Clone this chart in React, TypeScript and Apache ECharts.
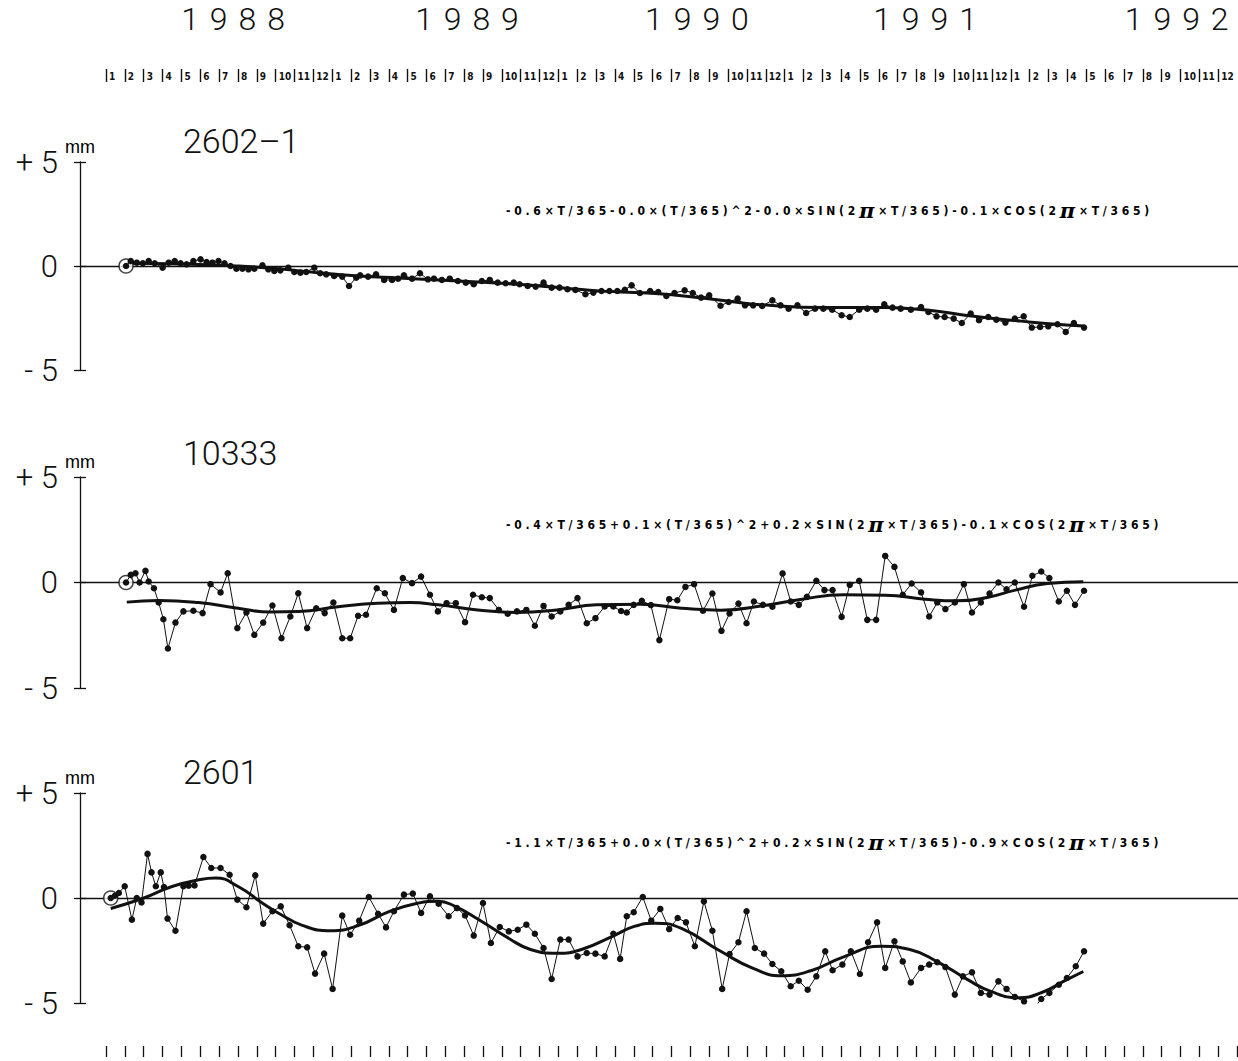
import React, { useEffect, useRef } from "react";
import * as echarts from "echarts";

// ---------- data ----------
const years = ["1988", "1989", "1990", "1991", "1992"];
const yearLabelMonths = [6.74, 19.15, 31.35, 43.45, 56.8];
const monthLabels = ["1", "2", "3", "4", "5", "6", "7", "8", "9", "10", "11", "12"];
const stations = ["2602\u20131", "10333", "2601"];
const formulas = [
  "-0.6×T/365-0.0×(T/365)^2-0.0×SIN(2π×T/365)-0.1×COS(2π×T/365)",
  "-0.4×T/365+0.1×(T/365)^2+0.2×SIN(2π×T/365)-0.1×COS(2π×T/365)",
  "-1.1×T/365+0.0×(T/365)^2+0.2×SIN(2π×T/365)-0.9×COS(2π×T/365)",
];

// x values are months since 1 Jan 1988
const p1Months = [
  1.06, 1.31, 1.63, 1.95, 2.26, 2.58, 3.0, 3.32, 3.64, 3.95,
  4.27, 4.63, 5.01, 5.33, 5.64, 5.96, 6.28, 6.6, 6.91, 7.23,
  7.55, 7.86, 8.29, 8.6, 8.92, 9.24, 9.66, 9.98, 10.3, 10.61,
  11.04, 11.35, 11.67, 12.09, 12.52, 12.88, 13.26, 13.47, 13.89, 14.31,
  14.74, 15.16, 15.48, 15.79, 16.22, 16.64, 17.06, 17.38, 17.8, 18.22,
  18.65, 19.07, 19.49, 19.92, 20.34, 20.76, 21.18, 21.61, 21.92, 22.35,
  22.77, 23.19, 23.62, 24.04, 24.46, 24.88, 25.41, 25.83, 26.26, 26.68,
  27.1, 27.5, 27.86, 28.3, 28.84, 29.27, 29.7, 30.13, 30.67, 31.1,
  31.54, 31.97, 32.57, 33.0, 33.48, 33.87, 34.3, 34.78, 35.32, 35.75,
  36.18, 36.65, 37.11, 37.58, 38.02, 38.49, 38.99, 39.42, 39.92, 40.35,
  40.82, 41.25, 41.69, 42.12, 42.66, 43.2, 43.59, 44.02, 44.45, 44.93,
  45.36, 45.83, 46.27, 46.76, 47.19, 47.67, 48.17, 48.64, 49.07, 49.51,
  49.94, 50.43, 50.87, 51.3, 51.84,
];
const p1Values = [
  0, 0.24, 0.16, 0.13, 0.24, 0.13, -0.08, 0.16, 0.24, 0.13,
  0.08, 0.24, 0.32, 0.19, 0.16, 0.24, 0.13, 0, -0.13, -0.13,
  -0.16, -0.13, 0.03, -0.16, -0.24, -0.21, -0.08, -0.29, -0.32, -0.29,
  -0.08, -0.35, -0.4, -0.48, -0.51, -0.96, -0.56, -0.45, -0.51, -0.4,
  -0.67, -0.67, -0.61, -0.45, -0.61, -0.35, -0.64, -0.61, -0.67, -0.61,
  -0.72, -0.8, -0.88, -0.72, -0.67, -0.8, -0.83, -0.8, -0.88, -0.96,
  -0.99, -0.8, -1.04, -1.04, -1.12, -1.15, -1.36, -1.28, -1.2, -1.2,
  -1.2, -1.14, -0.93, -1.3, -1.2, -1.25, -1.44, -1.3, -1.17, -1.3,
  -1.52, -1.41, -1.91, -1.73, -1.57, -1.89, -1.89, -1.92, -1.65, -1.89,
  -2.05, -1.89, -2.26, -2.05, -2.05, -2.1, -2.37, -2.45, -2.1, -2.05,
  -2.1, -1.84, -2.0, -2.05, -2.1, -1.97, -2.21, -2.42, -2.45, -2.53,
  -2.74, -2.29, -2.61, -2.45, -2.58, -2.72, -2.53, -2.42, -2.96, -2.93,
  -2.9, -2.8, -3.17, -2.74, -2.96,
];
const p1FitMonths = [1.1, 4, 7, 9, 11.2, 13.4, 15.5, 17.6, 19.7, 21.8, 23.5, 25, 26.5, 28, 30, 32.6, 35, 38, 41.3, 43.5, 46, 48.5, 50, 51.8];
const p1FitValues = [0.13, 0.1, 0.0, -0.12, -0.32, -0.48, -0.58, -0.67, -0.77, -0.88, -1.0, -1.12, -1.22, -1.27, -1.38, -1.65, -1.88, -2.0, -2.0, -2.12, -2.42, -2.65, -2.78, -2.88];

const p2Months = [
  1.06, 1.31, 1.56, 1.78, 2.09, 2.26, 2.54, 2.79, 3.04, 3.28,
  3.68, 4.1, 4.63, 5.12, 5.54, 6.07, 6.45, 6.96, 7.44, 7.86,
  8.33, 8.82, 9.3, 9.77, 10.19, 10.66, 11.14, 11.59, 12.05, 12.52,
  12.94, 13.36, 13.78, 14.35, 14.78, 15.26, 15.73, 16.22, 16.7, 17.17,
  17.59, 18.05, 18.54, 19.03, 19.45, 19.92, 20.34, 20.82, 21.29, 21.78,
  22.28, 22.73, 23.19, 23.62, 24.08, 24.52, 24.99, 25.48, 25.94, 26.43,
  26.89, 27.3, 27.6, 27.97, 28.4, 28.88, 29.33, 29.85, 30.28, 30.71,
  31.17, 31.64, 32.14, 32.62, 33.05, 33.52, 33.95, 34.34, 34.82, 35.32,
  35.86, 36.29, 36.72, 37.15, 37.65, 38.08, 38.51, 38.99, 39.42, 39.92,
  40.35, 40.82, 41.3, 41.79, 42.23, 42.7, 43.2, 43.63, 44.06, 44.49,
  44.99, 45.47, 45.9, 46.37, 46.83, 47.3, 47.73, 48.17, 48.66, 49.1,
  49.57, 50.0, 50.5, 50.93, 51.36, 51.84,
];
const p2Values = [
  0, 0.36, 0.44, 0, 0.55, 0.05, -0.27, -0.95, -1.74, -3.13,
  -1.9, -1.37, -1.34, -1.45, -0.08, -0.47, 0.44, -2.16, -1.42, -2.48,
  -1.9, -1.09, -2.64, -1.61, -0.51, -2.16, -1.22, -1.45, -0.95, -2.64,
  -2.64, -1.58, -1.53, -0.27, -0.51, -1.3, 0.21, -0.03, 0.28, -0.58,
  -1.37, -0.98, -0.98, -1.88, -0.58, -0.7, -0.74, -1.3, -1.48, -1.37,
  -1.3, -2.05, -1.11, -1.61, -1.37, -1.06, -0.74, -1.93, -1.69, -1.14,
  -1.14, -1.35, -1.42, -1.06, -0.87, -1.07, -2.73, -0.79, -0.84, -0.21,
  -0.08, -1.34, -0.52, -2.29, -1.47, -1.0, -1.93, -0.9, -1.06, -1.15,
  0.43, -0.9, -1.06, -0.68, 0.08, -0.36, -0.36, -1.63, -0.11, 0.08,
  -1.77, -1.77, 1.26, 0.74, -0.58, -0.05, -0.47, -1.61, -0.95, -1.26,
  -0.95, -0.08, -1.42, -0.95, -0.52, 0, -0.32, 0, -1.15, 0.32,
  0.52, 0.21, -0.9, -0.39, -1.06, -0.39,
];
const p2FitMonths = [1.1, 2.8, 4.9, 7, 8.7, 10.2, 12.3, 14.4, 16.1, 17.6, 19.7, 21.8, 23.9, 26, 28.3, 30.5, 32.6, 34.8, 36.9, 39.1, 41.3, 43.4, 45.1, 46.7, 48.2, 49.9, 51.8];
const p2FitValues = [-0.93, -0.85, -0.95, -1.22, -1.4, -1.38, -1.15, -0.98, -0.95, -1.06, -1.3, -1.42, -1.3, -1.06, -1.03, -1.22, -1.31, -1.1, -0.79, -0.58, -0.6, -0.79, -0.87, -0.71, -0.36, -0.05, 0.03];

const p3Months = [
  0.25, 0.47, 0.68, 0.99, 1.37, 1.63, 1.88, 2.2, 2.41, 2.64,
  2.9, 3.07, 3.26, 3.68, 4.1, 4.38, 4.69, 5.16, 5.58, 6.07,
  6.55, 6.96, 7.44, 7.91, 8.33, 8.82, 9.26, 9.73, 10.19, 10.66,
  11.08, 11.56, 12.01, 12.52, 12.94, 13.42, 13.93, 14.42, 14.84, 15.26,
  15.79, 16.26, 16.7, 17.17, 17.63, 18.16, 18.6, 19.03, 19.49, 19.98,
  20.4, 20.87, 21.35, 21.82, 22.28, 22.73, 23.19, 23.62, 24.08, 24.52,
  24.99, 25.48, 25.94, 26.43, 26.89, 27.25, 27.6, 27.97, 28.45, 28.9,
  29.38, 29.85, 30.3, 30.74, 31.21, 31.69, 32.14, 32.66, 33.05, 33.52,
  33.95, 34.39, 34.88, 35.32, 35.79, 36.29, 36.72, 37.19, 37.65, 38.12,
  38.51, 39.03, 39.48, 39.96, 40.39, 40.87, 41.3, 41.79, 42.23, 42.66,
  43.2, 43.63, 44.06, 44.49, 44.99, 45.42, 45.9, 46.37, 46.83, 47.3,
  47.73, 48.17, 48.66, 49.1, 49.57, 50.0, 50.5, 50.93, 51.4, 51.84,
];
const p3Values = [
  0, 0.11, 0.24, 0.56, -1.03, 0, -0.21, 2.1, 1.22, 0.56,
  1.22, 0.52, -0.98, -1.56, 0.56, 0.59, 0.6, 1.95, 1.43, 1.43,
  1.11, -0.08, -0.44, 1.08, -1.22, -0.63, -0.4, -1.3, -2.3, -2.35,
  -3.6, -2.65, -4.33, -0.84, -1.75, -1.08, 0.05, -0.75, -1.4, -0.63,
  0.16, 0.21, -0.71, 0.08, -0.27, -0.87, -0.48, -0.83, -1.79, -0.24,
  -2.14, -1.38, -1.59, -1.51, -1.27, -1.7, -2.38, -3.86, -1.98, -1.98,
  -2.78, -2.62, -2.65, -2.78, -1.7, -2.9, -0.87, -0.68, 0.05, -1.08,
  -0.52, -1.48, -0.95, -1.16, -2.3, -0.16, -1.56, -4.33, -2.67, -2.11,
  -0.63, -2.38, -2.65, -3.14, -3.49, -4.2, -3.94, -4.37, -3.73, -2.54,
  -3.44, -3.17, -2.54, -3.62, -2.11, -1.16, -3.33, -2.06, -3.02, -4.02,
  -3.33, -3.17, -3.06, -3.29, -4.6, -3.73, -3.54, -4.52, -4.6, -3.97,
  -4.33, -4.71, -4.92, -5.35, -4.81, -4.52, -4.13, -3.81, -3.25, -2.54,
];
const p3FitMonths = [0.25, 2, 3.5, 5, 5.8, 7, 8.3, 9.1, 10.4, 11.9, 13.4, 15, 16.5, 17.6, 18.5, 19.7, 21.4, 22.5, 23.9, 25.2, 26.9, 28, 29.1, 30.5, 32.6, 34.3, 35.8, 37.4, 39.1, 41.1, 42.6, 44.1, 45.6, 46.9, 48.4, 49.6, 50.8, 51.8];
const p3FitValues = [-0.5, 0.0, 0.55, 0.88, 0.95, 0.55, -0.25, -0.7, -1.3, -1.56, -1.3, -0.65, -0.25, -0.15, -0.4, -1.0, -1.95, -2.45, -2.63, -2.45, -1.8, -1.35, -1.2, -1.45, -2.55, -3.35, -3.7, -3.45, -2.8, -2.3, -2.45, -3.05, -3.85, -4.45, -4.75, -4.5, -3.95, -3.5];

// ---------- chart ----------
const INK = "#111111";
const BIG_FONT = "Roboto, 'Liberation Sans', sans-serif";
const SMALL_FONT = "'DejaVu Sans Condensed', 'DejaVu Sans', sans-serif";

const spaced = (s: string) =>
  Array.from(s)
    .map((c) => (c === "π" ? "{p|π}" : c))
    .join(" ");

const pair = (xs: number[], ys: number[]) => xs.map((x, i) => [x, ys[i]]);

export default function App() {
  const ref = useRef<HTMLDivElement>(null);

  useEffect(() => {
    if (!ref.current) return;
    const chart = echarts.init(ref.current, null, { renderer: "svg" });

    const panels = [
      { name: stations[0], formula: formulas[0], m: p1Months, v: p1Values, fm: p1FitMonths, fv: p1FitValues, top: 162, height: 208, titleTop: 124, formulaTop: 200 },
      { name: stations[1], formula: formulas[1], m: p2Months, v: p2Values, fm: p2FitMonths, fv: p2FitValues, top: 477, height: 211, titleTop: 436, formulaTop: 514 },
      { name: stations[2], formula: formulas[2], m: p3Months, v: p3Values, fm: p3FitMonths, fv: p3FitValues, top: 793, height: 210, titleTop: 755, formulaTop: 832 },
    ];

    const grid: any[] = panels.map((p) => ({ left: 80, right: 0, top: p.top, height: p.height }));
    grid.push({ left: 106, width: 1131, top: 66, height: 16 }); // month header (3)
    grid.push({ left: 106, width: 1131, top: 40, height: 1 }); // years (4)
    grid.push({ left: 106, width: 1131, top: 1046, height: 11 }); // bottom ticks (5)

    const xAxis: any[] = panels.map((_, i) => ({
      type: "value", gridIndex: i, min: -1.38, max: 60, show: false,
    }));
    xAxis.push({
      type: "value", gridIndex: 3, min: 0, max: 60, interval: 1, position: "bottom",
      axisLine: { show: false }, splitLine: { show: false },
      axisTick: { show: true, inside: true, length: 13, lineStyle: { color: INK, width: 1.4 } },
      axisLabel: {
        inside: true, margin: 1, align: "left", padding: [0, 0, 0, 3], fontSize: 10, fontWeight: "bold",
        color: INK, fontFamily: "'DejaVu Sans Condensed', 'DejaVu Sans', sans-serif",
        showMaxLabel: false,
        formatter: (v: number) => (v >= 60 ? "" : monthLabels[Math.round(v) % 12]),
      },
    });
    xAxis.push({
      type: "value", gridIndex: 4, min: 0, max: 60, position: "top",
      axisLine: { show: false }, axisTick: { show: false }, splitLine: { show: false },
      axisLabel: {
        customValues: yearLabelMonths,
        margin: 21, verticalAlign: "middle", fontSize: 32, fontWeight: 300,
        fontFamily: BIG_FONT, color: INK,
        formatter: (v: number) => years[Math.floor(v / 12)].split("").join("\u2004"),
      },
    });
    xAxis.push({
      type: "value", gridIndex: 5, min: 0, max: 60, interval: 1,
      axisLine: { show: false }, splitLine: { show: false }, axisLabel: { show: false },
      axisTick: { show: true, inside: true, length: 11, lineStyle: { color: INK, width: 1.3 } },
    });

    const yAxis: any[] = panels.map((_, i) => ({
      type: "value", gridIndex: i, min: -5, max: 5, interval: 5, position: "left",
      name: "mm", nameLocation: "end", nameGap: 6,
      nameTextStyle: { fontSize: 18, fontFamily: "'Liberation Sans', sans-serif", fontWeight: "normal", color: "#000000" },
      axisLine: { show: true, onZero: false, lineStyle: { color: INK, width: 1.3 } },
      axisTick: { show: true, length: 6, lineStyle: { color: INK, width: 1.3 } },
      splitLine: { show: false },
      axisLabel: {
        margin: 22, fontSize: 31, fontWeight: 300, fontFamily: BIG_FONT, color: INK,
        formatter: (v: number) => (v > 0 ? "+ 5" : v < 0 ? "- 5" : "0"),
      },
    }));
    [3, 4, 5].forEach((g) => yAxis.push({ type: "value", gridIndex: g, show: false }));
    panels.forEach((_, i) =>
      yAxis.push({
        type: "value", gridIndex: i, min: -5, max: 5, interval: 5, position: "left",
        axisLine: { show: false, onZero: false }, axisLabel: { show: false }, splitLine: { show: false },
        axisTick: { show: true, inside: true, length: 6, lineStyle: { color: INK, width: 1.3 } },
      })
    );

    const series: any[] = [];
    panels.forEach((p, i) => {
      const data = pair(p.m, p.v);
      series.push({
        type: "line", xAxisIndex: i, yAxisIndex: i, smooth: true, symbol: "none",
        data: pair(p.fm, p.fv), lineStyle: { color: INK, width: 3 }, z: 4,
        markLine: {
          silent: true, symbol: ["none", "none"], label: { show: false },
          lineStyle: { color: INK, width: 1.3, type: "solid" },
          data: [{ yAxis: 0 }],
        },
      });
      series.push({
        type: "scatter", xAxisIndex: i, yAxisIndex: i, data: [data[0]],
        symbol: "circle", symbolSize: 14,
        itemStyle: { color: "#fff", borderColor: INK, borderWidth: 1.5 }, z: 5,
      });
      series.push({
        type: "line", xAxisIndex: i, yAxisIndex: i, data, symbol: "circle", symbolSize: 6.5,
        showAllSymbol: true,
        lineStyle: { color: INK, width: 1 }, itemStyle: { color: INK }, z: 6,
      });
    });

    const title: any[] = [];
    panels.forEach((p) => {
      title.push({
        text: p.name, left: 183, top: p.titleTop, padding: 0,
        textStyle: { fontSize: 34, fontWeight: 300, fontFamily: BIG_FONT, color: INK },
      });
      title.push({
        text: spaced(p.formula), left: 506, top: p.formulaTop, padding: 0,
        textStyle: {
          fontSize: 12, fontWeight: "bold", fontFamily: SMALL_FONT, color: "#000",
          rich: { p: { fontSize: 21, fontFamily: "'DejaVu Serif', serif", fontStyle: "italic", color: "#000" } },
        },
      });
    });

    chart.setOption({
      animation: false,
      backgroundColor: "#fff",
      title,
      grid,
      xAxis,
      yAxis,
      series,
    });

    return () => chart.dispose();
  }, []);

  return (
    <div
      ref={ref}
      style={{ position: "fixed", left: 0, top: 0, width: 1238, height: 1061, background: "#fff" }}
    />
  );
}
